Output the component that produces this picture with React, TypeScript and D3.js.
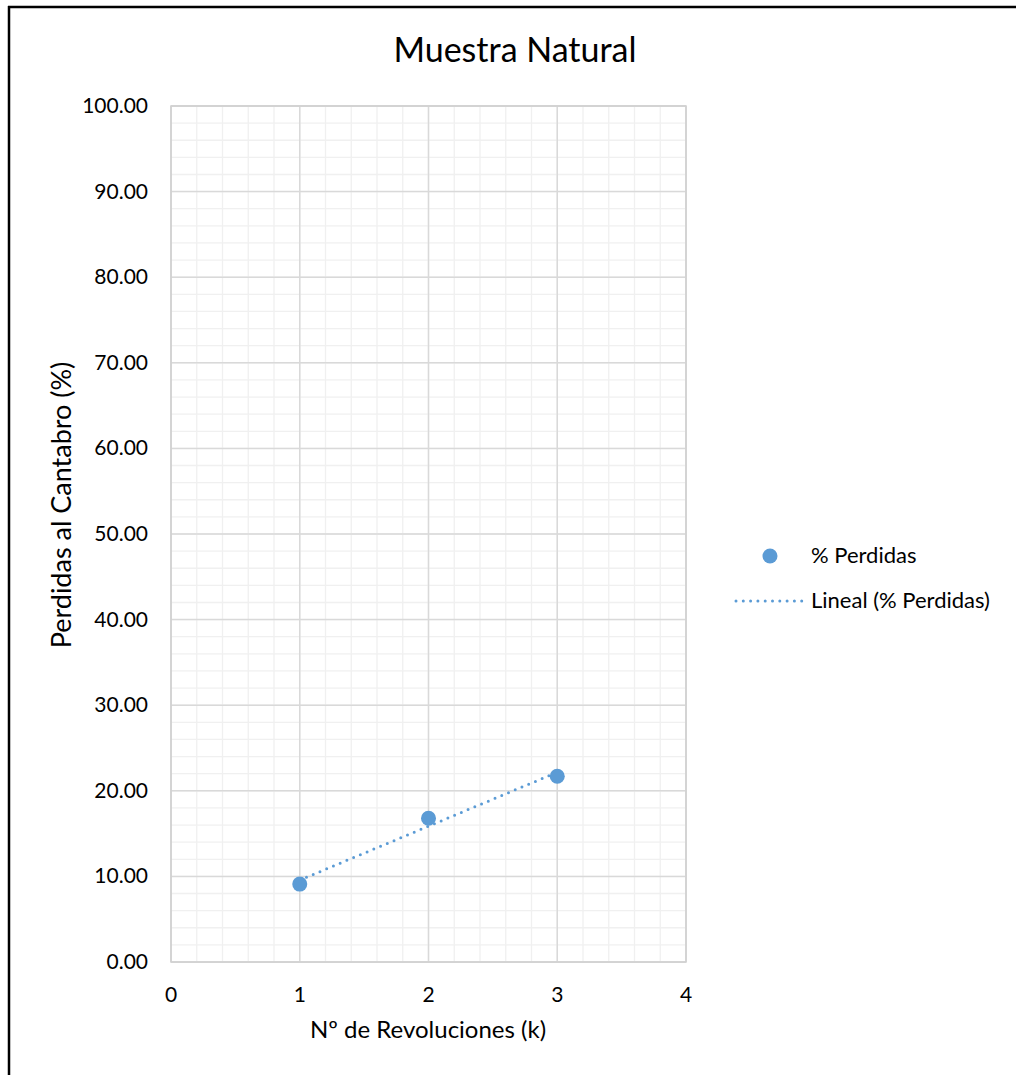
import React from "react";
import * as d3 from "d3";

const revoluciones = [1, 2, 3];
const perdidas = [9.1, 16.8, 21.7];
const xTicks = [0, 1, 2, 3, 4];
const yTicks = [0, 10, 20, 30, 40, 50, 60, 70, 80, 90, 100];
const title = "Muestra Natural";
const xTitle = "Nº de Revoluciones (k)";
const yTitle = "Perdidas al Cantabro (%)";
const seriesName = "% Perdidas";
const trendName = "Lineal (% Perdidas)";

const W = 1016;
const H = 1075;
const FONT = "Lato, 'Open Sans', sans-serif";
const BLUE = "#5b9bd5";

export default function App() {
  const x = d3.scaleLinear().domain([0, 4]).range([171, 686]);
  const y = d3.scaleLinear().domain([0, 100]).range([962, 106]);

  const n = revoluciones.length;
  const mx = d3.mean(revoluciones)!;
  const my = d3.mean(perdidas)!;
  const slope =
    d3.sum(revoluciones.map((v, i) => (v - mx) * (perdidas[i] - my))) /
    d3.sum(revoluciones.map((v) => (v - mx) ** 2));
  const intercept = my - slope * mx;
  const x0 = revoluciones[0];
  const x1 = revoluciones[n - 1];

  const xMinor = d3.range(0, 4.0001, 0.2);
  const yMinor = d3.range(0, 100.0001, 2);

  return (
    <svg width={W} height={H} style={{ position: "absolute", left: 0, top: 0 }}>
      <rect x={0} y={0} width={W} height={H} fill="#fff" />
      <line x1={9} y1={6} x2={9} y2={H} stroke="#000" strokeWidth={2.5} />
      <line x1={8} y1={7} x2={W} y2={7} stroke="#000" strokeWidth={2.5} />

      <text x={515} y={62} textAnchor="middle" fontFamily={FONT} fontSize={34} fill="#000">
        {title}
      </text>

      {xMinor.map((v, i) => (
        <line key={"xm" + i} x1={x(v)} x2={x(v)} y1={y(0)} y2={y(100)} stroke="#f0f0f0" strokeWidth={1.3} />
      ))}
      {yMinor.map((v, i) => (
        <line key={"ym" + i} x1={x(0)} x2={x(4)} y1={y(v)} y2={y(v)} stroke="#f0f0f0" strokeWidth={1.3} />
      ))}
      {xTicks.map((v) => (
        <line key={"xM" + v} x1={x(v)} x2={x(v)} y1={y(0)} y2={y(100)} stroke="#d9d9d9" strokeWidth={1.5} />
      ))}
      {yTicks.map((v) => (
        <line key={"yM" + v} x1={x(0)} x2={x(4)} y1={y(v)} y2={y(v)} stroke="#d9d9d9" strokeWidth={1.5} />
      ))}
      <rect x={x(0)} y={y(100)} width={x(4) - x(0)} height={y(0) - y(100)} fill="none" stroke="#d0d0d0" strokeWidth={1.5} />

      {yTicks.map((v) => (
        <text key={"yl" + v} x={148} y={y(v) + 7} textAnchor="end" fontFamily={FONT} fontSize={21} fill="#000">
          {v.toFixed(2)}
        </text>
      ))}
      {xTicks.map((v) => (
        <text key={"xl" + v} x={x(v)} y={1002} textAnchor="middle" fontFamily={FONT} fontSize={21} fill="#000">
          {v}
        </text>
      ))}

      <text x={428} y={1038} textAnchor="middle" fontFamily={FONT} fontSize={24} fill="#000">
        {xTitle}
      </text>
      <text
        transform={`translate(71, 505) rotate(-90)`}
        textAnchor="middle"
        fontFamily={FONT}
        fontSize={27}
        fill="#000"
      >
        {yTitle}
      </text>

      <line
        x1={x(x0)}
        y1={y(intercept + slope * x0)}
        x2={x(x1)}
        y2={y(intercept + slope * x1)}
        stroke={BLUE}
        strokeWidth={3}
        strokeDasharray="0 7.3"
        strokeLinecap="round"
      />
      {revoluciones.map((v, i) => (
        <circle key={"p" + i} cx={x(v)} cy={y(perdidas[i])} r={7.5} fill={BLUE} />
      ))}

      <circle cx={770} cy={556} r={7.5} fill={BLUE} />
      <text x={811} y={563} fontFamily={FONT} fontSize={22} fill="#000">
        {seriesName}
      </text>
      <line x1={736} y1={601} x2={802} y2={601} stroke={BLUE} strokeWidth={3} strokeDasharray="0 7.3" strokeLinecap="round" />
      <text x={811} y={608} fontFamily={FONT} fontSize={22} fill="#000">
        {trendName}
      </text>
    </svg>
  );
}
